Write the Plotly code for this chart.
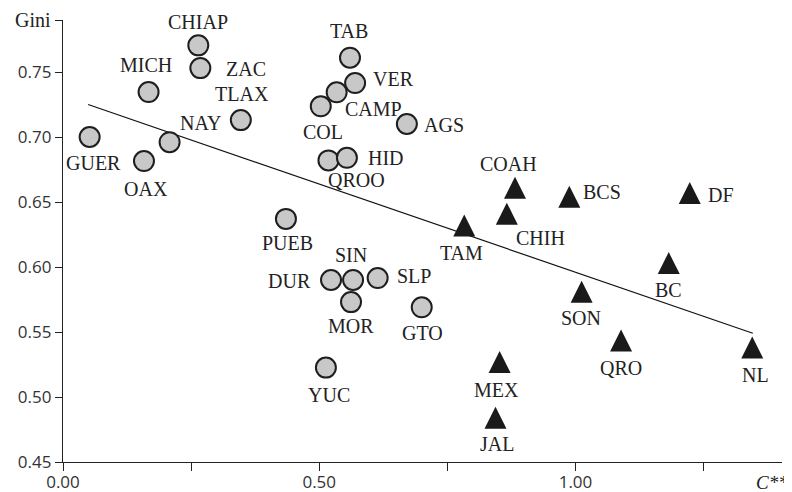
import plotly.graph_objects as go

# ---- data ----
circle_states = ["GUER", "OAX", "MICH", "NAY", "CHIAP", "ZAC", "TLAX", "PUEB", "COL", "QROO",
                 "CAMP", "HID", "TAB", "VER", "AGS", "YUC", "DUR", "SIN", "MOR", "SLP", "GTO"]
circle_c = [0.052, 0.158, 0.167, 0.208, 0.264, 0.268, 0.347, 0.435, 0.503, 0.518,
            0.534, 0.554, 0.560, 0.570, 0.671, 0.513, 0.523, 0.566, 0.562, 0.614, 0.700]
circle_gini = [0.700, 0.6815, 0.7346, 0.696, 0.7705, 0.753, 0.713, 0.637, 0.7236, 0.682,
               0.7344, 0.684, 0.761, 0.7415, 0.710, 0.5226, 0.590, 0.590, 0.573, 0.5915, 0.569]

tri_states = ["TAM", "CHIH", "COAH", "BCS", "DF", "BC", "SON", "QRO", "NL", "MEX", "JAL"]
tri_c = [0.783, 0.866, 0.882, 0.988, 1.223, 1.182, 1.012, 1.089, 1.345, 0.852, 0.844]
tri_gini = [0.632, 0.641, 0.661, 0.654, 0.657, 0.603, 0.581, 0.5435, 0.538, 0.527, 0.484]

trend_c = [0.049, 1.346]
trend_gini = [0.725, 0.549]

x_tickvals = [0.0, 0.25, 0.5, 0.75, 1.0, 1.25]
x_ticktext = ["0.00", "", "0.50", "", "1.00", ""]
y_tickvals = [0.45, 0.50, 0.55, 0.60, 0.65, 0.70, 0.75, 0.79]
y_ticktext = ["0.45", "0.50", "0.55", "0.60", "0.65", "0.70", "0.75", ""]

# ---- label placement (anchor, dx px, dy px; dy downward) ----
label_pos = {
    "GUER": ("center", 4, 26), "OAX": ("center", 2, 28), "MICH": ("center", -3, -27),
    "NAY": ("left", 8, -19), "CHIAP": ("center", 0, -23), "ZAC": ("left", 24, 1),
    "TLAX": ("center", 1, -26), "PUEB": ("center", 2, 24), "COL": ("center", 2, 26),
    "QROO": ("left", -2, 20), "CAMP": ("left", 6, 17), "HID": ("left", 19, 0),
    "TAB": ("center", -1, -27), "VER": ("left", 16, -4), "AGS": ("left", 15, 1),
    "YUC": ("center", 3, 27), "DUR": ("right", -18, 1), "SIN": ("center", -2, -25),
    "MOR": ("center", 0, 24), "SLP": ("left", 17, -2), "GTO": ("center", 1, 26),
    "TAM": ("center", -3, 28), "CHIH": ("left", 7, 24), "COAH": ("center", -7, -24),
    "BCS": ("left", 12, -5), "DF": ("left", 16, 2), "BC": ("center", 0, 27),
    "SON": ("center", -1, 26), "QRO": ("center", 0, 28), "NL": ("center", 3, 27),
    "MEX": ("center", -3, 28), "JAL": ("center", 1, 26),
}

SERIF = "Liberation Serif"
SANS = "Open Sans"
INK = "#222222"

fig = go.Figure()

fig.add_trace(go.Scatter(
    x=trend_c, y=trend_gini, mode="lines",
    line=dict(color="#111111", width=1.2), hoverinfo="skip", showlegend=False))

fig.add_trace(go.Scatter(
    x=circle_c, y=circle_gini, mode="markers", text=circle_states,
    marker=dict(symbol="circle", size=20, color="#c8c8c8",
                line=dict(color="#1e1e1e", width=2)),
    showlegend=False))

fig.add_trace(go.Scatter(
    x=tri_c, y=tri_gini, mode="markers", text=tri_states,
    marker=dict(symbol="arrow-down", angle=180, standoff=11, size=22,
                color="#1a1a1a", line=dict(width=0)),
    showlegend=False))

annotations = []
for names, xs, ys in ((circle_states, circle_c, circle_gini), (tri_states, tri_c, tri_gini)):
    for n, xv, yv in zip(names, xs, ys):
        anchor, dx, dy = label_pos[n]
        annotations.append(dict(
            x=xv, y=yv, xref="x", yref="y", text=n, showarrow=False,
            xanchor=anchor, yanchor="middle", xshift=dx, yshift=-dy,
            font=dict(family=SERIF, size=20, color=INK)))

annotations.append(dict(x=0, y=0.79, xref="paper", yref="y", text="Gini", showarrow=False,
                        xanchor="right", yanchor="middle", xshift=-10,
                        font=dict(family=SERIF, size=20, color=INK)))
annotations.append(dict(x=1, y=0, xref="paper", yref="paper", text="<i>C**</i>", showarrow=False,
                        xanchor="right", yanchor="top", xshift=8, yshift=-8,
                        font=dict(family=SERIF, size=19, color=INK)))

# the page body adds an 8 px offset, so margins are set to land the plot area
# at the reference position inside the 792x492 window
fig.update_layout(
    template="none",
    width=792, height=492,
    margin=dict(l=55, r=18, t=12, b=38, autoexpand=False),
    paper_bgcolor="white", plot_bgcolor="white",
    annotations=annotations,
    xaxis=dict(range=[0, 1.403], showgrid=False, zeroline=False, showline=True,
               automargin=False,
               linecolor=INK, linewidth=1.3, ticks="outside", ticklen=8,
               tickcolor=INK, tickwidth=1.3, tickvals=x_tickvals, ticktext=x_ticktext,
               ticklabelstandoff=-4,
               tickfont=dict(family=SANS, size=17, color="#333333")),
    yaxis=dict(range=[0.45, 0.79], showgrid=False, zeroline=False, showline=True,
               automargin=False,
               linecolor=INK, linewidth=1.3, ticks="outside", ticklen=7,
               tickcolor=INK, tickwidth=1.3, tickvals=y_tickvals, ticktext=y_ticktext,
               tickfont=dict(family=SANS, size=17, color="#333333")),
)

fig.write_html("out.html")
